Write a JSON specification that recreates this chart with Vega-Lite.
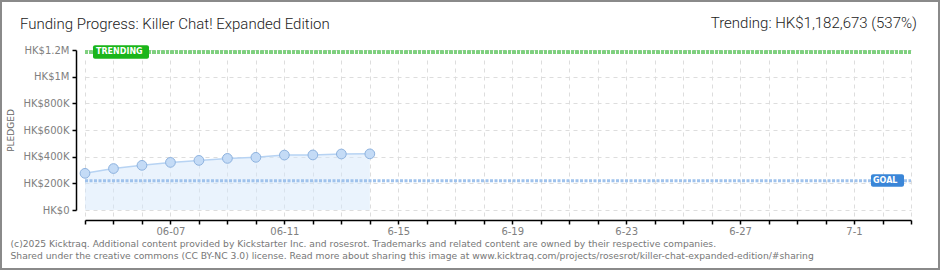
{
  "$schema": "https://vega.github.io/schema/vega-lite/v6.json",
  "width": 940,
  "height": 270,
  "padding": 0,
  "autosize": {"type": "none"},
  "background": "#ffffff",
  "config": {
    "view": {"stroke": "#8a8a8a", "strokeWidth": 4},
    "font": "DejaVu Sans"
  },
  "title": {
    "text": "Funding Progress: Killer Chat! Expanded Edition",
    "anchor": "start",
    "frame": "group",
    "dx": 20,
    "offset": -32,
    "font": "Roboto",
    "fontSize": 15,
    "fontWeight": 300,
    "color": "#222222"
  },
  "datasets": {
    "pledges": [
      {"date": "2025-06-04", "pledged": 275000},
      {"date": "2025-06-05", "pledged": 311000},
      {"date": "2025-06-06", "pledged": 335000},
      {"date": "2025-06-07", "pledged": 357000},
      {"date": "2025-06-08", "pledged": 372000},
      {"date": "2025-06-09", "pledged": 387000},
      {"date": "2025-06-10", "pledged": 395000},
      {"date": "2025-06-11", "pledged": 412000},
      {"date": "2025-06-12", "pledged": 413000},
      {"date": "2025-06-13", "pledged": 420000},
      {"date": "2025-06-14", "pledged": 421000}
    ],
    "goal": [{"goal": 220237}],
    "trend": [{"trending": 1182673, "label": "Trending: HK$1,182,673 (537%)"}]
  },
  "layer": [
    {
      "data": {"name": "pledges"},
      "mark": {"type": "area", "color": "#d6e7fb", "opacity": 0.5},
      "encoding": {
        "x": {
          "field": "date",
          "type": "temporal",
          "scale": {
            "type": "utc",
            "domain": [
              {"year": 2025, "month": 6, "date": 4, "utc": true},
              {"year": 2025, "month": 7, "date": 3, "utc": true}
            ],
            "range": [85, 911],
            "nice": false
          },
          "axis": {
            "orient": "bottom",
            "offset": -50,
            "tickCount": {"interval": "day", "step": 1},
            "labelOverlap": false,
            "labelFlush": false,
            "labelExpr": "((datum.value - utc(2025,5,7)) / 86400000) % 4 == 0 ? (datum.value < utc(2025,5,12) ? utcFormat(datum.value, '%m-%d') : utcFormat(datum.value, '%-m-%-d')) : ''",
            "labelFont": "DejaVu Sans",
            "labelFontSize": 10,
            "labelColor": "#808080",
            "labelPadding": 2,
            "domainColor": "#000000",
            "domainWidth": 1.5,
            "tickColor": "#000000",
            "tickWidth": 1.5,
            "tickSize": 4,
            "grid": true,
            "gridColor": "#dddddd",
            "gridDash": [4, 4],
            "gridWidth": 1,
            "title": [
              "(c)2025 Kicktraq. Additional content provided by Kickstarter Inc. and rosesrot. Trademarks and related content are owned by their respective companies.",
              "Shared under the creative commons (CC BY-NC 3.0) license. Read more about sharing this image at www.kicktraq.com/projects/rosesrot/killer-chat-expanded-edition/#sharing"
            ],
            "titleX": 10,
            "titleY": 26,
            "titleAlign": "left",
            "titleAnchor": "start",
            "titleBaseline": "alphabetic",
            "titleFont": "DejaVu Sans",
            "titleFontSize": 9.2,
            "titleFontWeight": "normal",
            "titleColor": "#777777",
            "titleLineHeight": 12
          }
        },
        "y": {
          "field": "pledged",
          "type": "quantitative",
          "scale": {"domain": [0, 1200000], "range": [210, 50], "nice": false},
          "axis": {
            "orient": "left",
            "offset": -76,
            "values": [0, 100000, 200000, 300000, 400000, 500000, 600000, 700000, 800000, 900000, 1000000, 1100000, 1200000],
            "labelExpr": "datum.value % 200000 != 0 ? '' : datum.value == 0 ? 'HK$0' : datum.value >= 1000000 ? 'HK$' + (datum.value / 1000000) + 'M' : 'HK$' + (datum.value / 1000) + 'K'",
            "labelFont": "DejaVu Sans",
            "labelFontSize": 10,
            "labelColor": "#808080",
            "labelPadding": 3,
            "labelOverlap": false,
            "domainColor": "#000000",
            "domainWidth": 1.5,
            "tickColor": {"condition": {"test": "datum.value % 200000 != 0", "value": "#e8141e"}, "value": "#000000"},
            "tickWidth": 1.5,
            "tickSize": 4,
            "grid": true,
            "gridColor": "#dddddd",
            "gridDash": [4, 4],
            "gridOpacity": {"condition": {"test": "datum.value % 200000 != 0", "value": 0}, "value": 1},
            "title": "PLEDGED",
            "titleX": -66,
            "titleY": 130,
            "titleAngle": 270,
            "titleAlign": "center",
            "titleBaseline": "middle",
            "titleFont": "DejaVu Sans",
            "titleFontSize": 9,
            "titleFontWeight": "normal",
            "titleColor": "#666666"
          }
        }
      }
    },
    {
      "data": {"name": "pledges"},
      "mark": {"type": "line", "color": "#b7d3f3", "strokeWidth": 1.5},
      "encoding": {
        "x": {"field": "date", "type": "temporal"},
        "y": {"field": "pledged", "type": "quantitative"}
      }
    },
    {
      "data": {"name": "pledges"},
      "mark": {"type": "rule", "color": "#7fd07f", "strokeWidth": 3, "strokeDash": [3, 1.5]},
      "encoding": {
        "x": {"datum": {"year": 2025, "month": 6, "date": 4, "utc": true}},
        "x2": {"datum": {"year": 2025, "month": 7, "date": 3, "utc": true}},
        "y": {"datum": 1182673}
      }
    },
    {
      "data": {"name": "goal"},
      "mark": {"type": "rule", "color": "#9fc2ec", "strokeWidth": 3, "strokeDash": [3, 1.5]},
      "encoding": {
        "x": {"datum": {"year": 2025, "month": 6, "date": 4, "utc": true}},
        "x2": {"datum": {"year": 2025, "month": 7, "date": 3, "utc": true}},
        "y": {"field": "goal", "type": "quantitative"}
      }
    },
    {
      "data": {"name": "pledges"},
      "mark": {"type": "point", "filled": true, "fill": "#c4dbf6", "stroke": "#8db2df", "strokeWidth": 1, "size": 95, "opacity": 1},
      "encoding": {
        "x": {"field": "date", "type": "temporal"},
        "y": {"field": "pledged", "type": "quantitative"}
      }
    },
    {
      "data": {"name": "trend"},
      "mark": {"type": "rect", "color": "#1ab51a", "cornerRadius": 2, "xOffset": 8, "x2Offset": 64, "yOffset": -7, "y2Offset": 6.5},
      "encoding": {
        "x": {"datum": {"year": 2025, "month": 6, "date": 4, "utc": true}},
        "x2": {"datum": {"year": 2025, "month": 6, "date": 4, "utc": true}},
        "y": {"field": "trending", "type": "quantitative"},
        "y2": {"field": "trending"}
      }
    },
    {
      "data": {"name": "trend"},
      "mark": {"type": "text", "text": "TRENDING", "color": "#ffffff", "font": "DejaVu Sans", "fontSize": 8, "fontWeight": "bold", "align": "left", "baseline": "middle", "dx": 11},
      "encoding": {
        "x": {"datum": {"year": 2025, "month": 6, "date": 4, "utc": true}},
        "y": {"field": "trending", "type": "quantitative"}
      }
    },
    {
      "data": {"name": "trend"},
      "mark": {"type": "text", "color": "#222222", "font": "Roboto", "fontSize": 15, "fontWeight": 300, "align": "right", "baseline": "alphabetic", "dx": 6, "dy": -24},
      "encoding": {
        "x": {"datum": {"year": 2025, "month": 7, "date": 3, "utc": true}},
        "y": {"field": "trending", "type": "quantitative"},
        "text": {"field": "label"}
      }
    },
    {
      "data": {"name": "goal"},
      "mark": {"type": "rect", "color": "#3a86d8", "cornerRadius": 2, "xOffset": -40, "x2Offset": -7, "yOffset": -6.3, "y2Offset": 6},
      "encoding": {
        "x": {"datum": {"year": 2025, "month": 7, "date": 3, "utc": true}},
        "x2": {"datum": {"year": 2025, "month": 7, "date": 3, "utc": true}},
        "y": {"field": "goal", "type": "quantitative"},
        "y2": {"field": "goal"}
      }
    },
    {
      "data": {"name": "goal"},
      "mark": {"type": "text", "text": "GOAL", "color": "#ffffff", "font": "DejaVu Sans", "fontSize": 8, "fontWeight": "bold", "align": "left", "baseline": "middle", "dx": -38},
      "encoding": {
        "x": {"datum": {"year": 2025, "month": 7, "date": 3, "utc": true}},
        "y": {"field": "goal", "type": "quantitative"}
      }
    }
  ]
}
